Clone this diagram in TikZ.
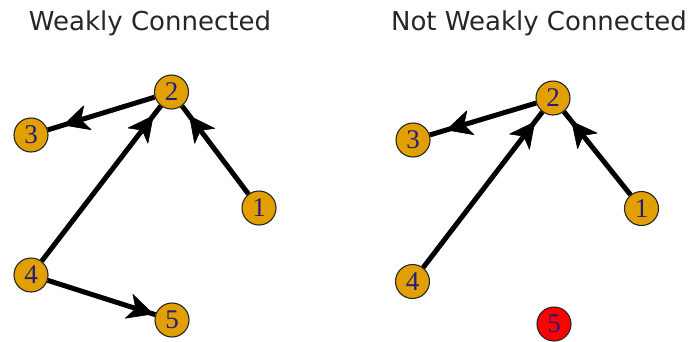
\documentclass[tikz,border=0pt]{standalone}
\usepackage{fontspec}
\setmainfont{Liberation Serif}
\newfontfamily\titlefont{DejaVu Sans}
\usetikzlibrary{calc}
\definecolor{nodefill}{RGB}{226,160,0}
\definecolor{labelblue}{RGB}{35,30,120}
\tikzset{
  vertex/.style={circle, draw=black!85, line width=1.1pt, fill=nodefill,
    minimum size=34pt, inner sep=0pt, font=\fontsize{27}{27}\selectfont, text=labelblue},
  badvertex/.style={vertex, fill=red},
  edge/.style={line width=5pt},
  headfill/.style={fill=black, draw=black, line width=0.6pt, line join=round},
  heading/.style={font=\titlefont\fontsize{26}{26}\selectfont, text=black!85, anchor=base}
}
% swept-back arrow head on the line #1 -> #2, its tip #3 away from the centre of #2
\newcommand\edgehead[3]{%
  \coordinate (hd-tip) at ($(#2)!#3!(#1)$);
  \coordinate (hd-back) at ($(hd-tip)!25pt!(#1)$);
  \coordinate (hd-notch) at ($(hd-tip)!18pt!(#1)$);
  \filldraw[headfill] (hd-tip) -- ($(hd-back)!12.5pt!90:(hd-tip)$) -- (hd-notch)
    -- ($(hd-back)!12.5pt!-90:(hd-tip)$) -- cycle;
}
\begin{document}
\begin{tikzpicture}[x=1pt,y=-1pt]
  \useasboundingbox (0,0) rectangle (693,341);
  % titles
  \node[heading] (t1) at (150,30) {Weakly Connected};
  \node[heading] (t2) at (539,30) {Not Weakly Connected};
  % left graph
  \node[vertex] (a2) at (171.5,92) {2};
  \node[vertex] (a3) at (31,135) {3};
  \node[vertex] (a1) at (259,208) {1};
  \node[vertex] (a4) at (31,275) {4};
  \node[vertex] (a5) at (172,320) {5};
  \draw[edge] (a2) -- (a3);
  \draw[edge] (a1) -- (a2);
  \draw[edge] (a4) -- (a2);
  \draw[edge] (a4) -- (a5);
  \edgehead{a2}{a3}{34pt}
  \edgehead{a1}{a2}{30pt}
  \edgehead{a4}{a2}{30pt}
  \edgehead{a4}{a5}{20pt}
  % right graph
  \node[vertex] (b2) at (553,98) {2};
  \node[vertex] (b3) at (413,140) {3};
  \node[vertex] (b1) at (641.5,208.5) {1};
  \node[vertex] (b4) at (412.5,281.5) {4};
  \node[badvertex] (b5) at (554,324) {5};
  \draw[edge] (b2) -- (b3);
  \draw[edge] (b1) -- (b2);
  \draw[edge] (b4) -- (b2);
  \edgehead{b2}{b3}{35pt}
  \edgehead{b1}{b2}{30pt}
  \edgehead{b4}{b2}{30pt}
\end{tikzpicture}
\end{document}
